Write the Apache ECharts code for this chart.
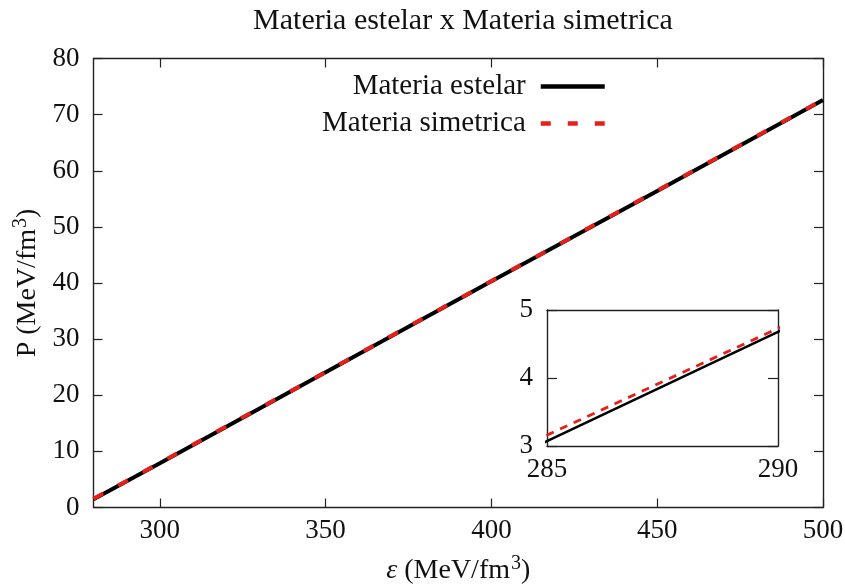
<!DOCTYPE html>
<html>
<head>
<meta charset="utf-8">
<script src="https://cdn.jsdelivr.net/npm/echarts@6/dist/echarts.min.js"></script>
<style>
  html, body { margin: 0; padding: 0; background: #ffffff; }
  #chart { width: 845px; height: 585px; }
</style>
</head>
<body>
<div id="chart"></div>
<script>
// Pressure versus energy density for the two equations of state
const energy = [280, 285, 290, 300, 350, 400, 450, 500];
const pStellar = [1.46, 3.07, 4.68, 7.9, 24.1, 40.3, 56.4, 72.6];
const pSymmetric = [1.55, 3.16, 4.73, 7.96, 24.15, 40.35, 56.45, 72.65];

const nameStellar = 'Materia estelar';
const nameSymmetric = 'Materia simetrica';
const chartTitle = 'Materia estelar x Materia simetrica';

// Tick positions
const xTicks = [300, 350, 400, 450, 500];
const insetXTicks = [285, 290];

const FONT = 'Liberation Serif';
const INK = '#111111';
const RED = '#e5201b';

const pairs = (ys) => energy.map((e, i) => [e, ys[i]]);

const axisLine = { show: true, onZero: false, lineStyle: { color: '#222', width: 1.4 } };
const labelStyle = { fontFamily: FONT, fontSize: 27, color: INK };
const nameRich = {
  rich: {
    n: { fontFamily: FONT, fontSize: 28, color: INK, lineHeight: 34, verticalAlign: 'bottom' },
    i: { fontFamily: FONT, fontSize: 28, color: INK, fontStyle: 'italic', lineHeight: 34, verticalAlign: 'bottom' },
    s: { fontFamily: FONT, fontSize: 20, color: INK, lineHeight: 20, verticalAlign: 'top', padding: [3, 0, 0, 1] }
  }
};

const legendBase = {
  orient: 'vertical',
  right: 233,
  align: 'right',
  itemWidth: 64,
  itemHeight: 14,
  selectedMode: false,
  itemStyle: { opacity: 0 },
  textStyle: { fontFamily: FONT, fontSize: 29, color: INK, padding: [0, 10, 0, 0] }
};

const chart = echarts.init(document.getElementById('chart'), null, { renderer: 'canvas' });

chart.setOption({
  animation: false,
  backgroundColor: '#ffffff',
  title: {
    text: chartTitle,
    left: 458,
    top: 1,
    textAlign: 'center',
    textStyle: { fontFamily: FONT, fontSize: 30, fontWeight: 'normal', color: INK }
  },
  legend: [
    {
      ...legendBase,
      data: [nameStellar],
      top: 67,
      lineStyle: { width: 4.5, color: '#000000' }
    },
    {
      ...legendBase,
      data: [nameSymmetric],
      top: 104,
      lineStyle: { width: 4.5, color: RED, type: [10, 17] }
    }
  ],
  grid: [
    { left: 93.5, top: 58.5, right: 22, bottom: 77.5, outerBoundsMode: 'none', containLabel: false },
    { left: 547, top: 310, width: 231, height: 136, outerBoundsMode: 'none', containLabel: false }
  ],
  xAxis: [
    {
      gridIndex: 0, type: 'value', position: 'bottom', min: 280, max: 500,
      axisLine,
      axisTick: { show: true, inside: true, length: 9, customValues: xTicks, lineStyle: { color: '#222', width: 1.2 } },
      axisLabel: { ...labelStyle, margin: 10, customValues: xTicks },
      splitLine: { show: false },
      name: '{i|ε}{n| (MeV/fm}{s|3}{n|)}',
      nameLocation: 'middle',
      nameGap: 43,
      nameTextStyle: nameRich
    },
    {
      gridIndex: 0, type: 'value', position: 'top', min: 280, max: 500,
      axisLine,
      axisTick: { show: true, inside: true, length: 9, customValues: xTicks, lineStyle: { color: '#222', width: 1.2 } },
      axisLabel: { show: false },
      splitLine: { show: false }
    },
    {
      gridIndex: 1, type: 'value', position: 'bottom', min: 285, max: 290,
      axisLine,
      axisTick: { show: false },
      axisLabel: { ...labelStyle, margin: 10, customValues: insetXTicks },
      splitLine: { show: false }
    },
    {
      gridIndex: 1, type: 'value', position: 'top', min: 285, max: 290,
      axisLine,
      axisTick: { show: false },
      axisLabel: { show: false },
      splitLine: { show: false }
    }
  ],
  yAxis: [
    {
      gridIndex: 0, type: 'value', position: 'left', min: 0, max: 80, interval: 10,
      axisLine,
      axisTick: { show: true, inside: true, length: 9, lineStyle: { color: '#222', width: 1.2 } },
      axisLabel: { ...labelStyle, margin: 14 },
      splitLine: { show: false },
      name: '{n|P (MeV/fm}{s|3}{n|)}',
      nameLocation: 'middle',
      nameRotate: 90,
      nameGap: 50,
      nameTextStyle: nameRich
    },
    {
      gridIndex: 0, type: 'value', position: 'right', min: 0, max: 80, interval: 10,
      axisLine,
      axisTick: { show: true, inside: true, length: 9, lineStyle: { color: '#222', width: 1.2 } },
      axisLabel: { show: false },
      splitLine: { show: false }
    },
    {
      gridIndex: 1, type: 'value', position: 'left', min: 3, max: 5, interval: 1,
      axisLine,
      axisTick: { show: true, inside: true, length: 10, lineStyle: { color: '#222', width: 1.2 } },
      axisLabel: { ...labelStyle, margin: 14 },
      splitLine: { show: false }
    },
    {
      gridIndex: 1, type: 'value', position: 'right', min: 3, max: 5, interval: 1,
      axisLine,
      axisTick: { show: true, inside: true, length: 10, lineStyle: { color: '#222', width: 1.2 } },
      axisLabel: { show: false },
      splitLine: { show: false }
    }
  ],
  series: [
    {
      name: nameStellar, type: 'line', xAxisIndex: 0, yAxisIndex: 0,
      data: pairs(pStellar), symbol: 'none', showSymbol: false, z: 2,
      lineStyle: { color: '#000000', width: 4 },
      itemStyle: { color: '#000000' }
    },
    {
      name: nameSymmetric, type: 'line', xAxisIndex: 0, yAxisIndex: 0,
      data: pairs(pSymmetric), symbol: 'none', showSymbol: false, z: 3,
      lineStyle: { color: RED, width: 4, type: [11, 17] },
      itemStyle: { color: RED }
    },
    {
      name: 'inset-stellar', type: 'line', xAxisIndex: 2, yAxisIndex: 2,
      data: pairs(pStellar), symbol: 'none', showSymbol: false, clip: true, z: 2,
      lineStyle: { color: '#000000', width: 2.5 }
    },
    {
      name: 'inset-symmetric', type: 'line', xAxisIndex: 2, yAxisIndex: 2,
      data: pairs(pSymmetric), symbol: 'none', showSymbol: false, clip: true, z: 3,
      lineStyle: { color: RED, width: 2.8, type: [8, 7] }
    }
  ]
});
</script>
</body>
</html>
